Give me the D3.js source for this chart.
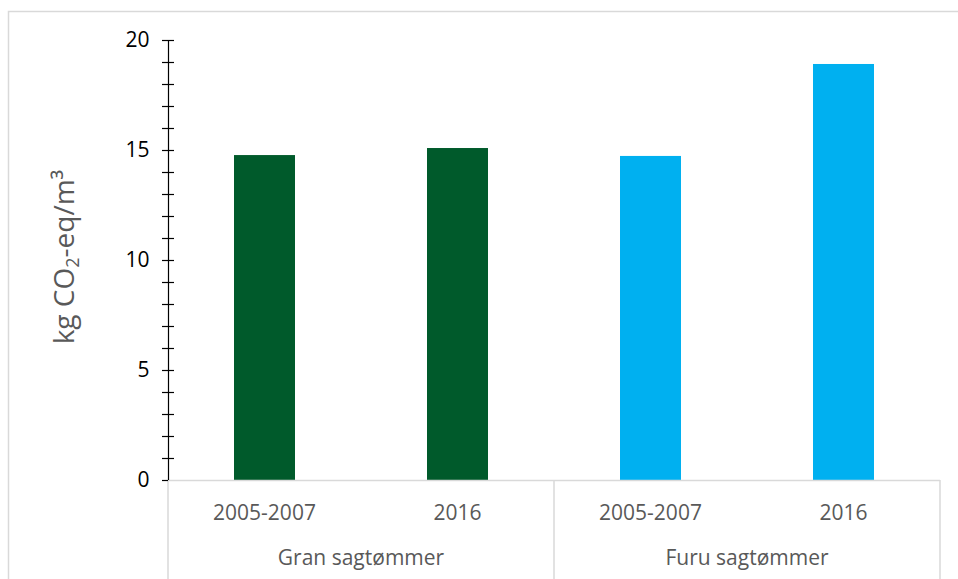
<!DOCTYPE html>
<html>
<head>
<meta charset="utf-8">
<script src="https://cdn.jsdelivr.net/npm/d3@7"></script>
<style>
  body { margin: 0; background: #fff; }
  text { font-family: "Open Sans", "Liberation Sans", sans-serif; }
</style>
</head>
<body>
<script>
// data
var groups = ["Gran sagtømmer", "Furu sagtømmer"];
var periods = ["2005-2007", "2016"];
var values = [14.77, 15.09, 14.73, 18.91];
var colors = ["#005a2b", "#005a2b", "#00b0f0", "#00b0f0"];
var yTicks = [0, 5, 10, 15, 20];

var width = 958, height = 579;
var plotLeft = 168, plotRight = 940, plotTop = 40, plotBottom = 480;

var svg = d3.select("body").append("svg")
    .attr("width", width)
    .attr("height", height);

// chart frame
svg.append("rect")
    .attr("x", 8.5).attr("y", 11.5)
    .attr("width", 960).attr("height", 600)
    .attr("fill", "none")
    .attr("stroke", "#d9d9d9")
    .attr("stroke-width", 1.5);

var cats = [];
groups.forEach(function(g, gi){
    periods.forEach(function(p){ cats.push(gi + "|" + p); });
});

var x = d3.scaleBand().domain(cats).range([plotLeft, plotRight]).paddingInner(0).paddingOuter(0);
var y = d3.scaleLinear().domain([0, 20]).range([plotBottom, plotTop]);

// bars
var barW = x.bandwidth() * 0.316;
svg.selectAll(".bar")
    .data(values)
    .enter().append("rect")
    .attr("class", "bar")
    .attr("x", function(d, i){ return x(cats[i]) + (x.bandwidth() - barW) / 2; })
    .attr("y", function(d){ return y(d); })
    .attr("width", barW)
    .attr("height", function(d){ return y(0) - y(d); })
    .attr("fill", function(d, i){ return colors[i]; });

// category axis (gray)
svg.append("line")
    .attr("x1", plotLeft).attr("x2", plotRight)
    .attr("y1", plotBottom + 0.5).attr("y2", plotBottom + 0.5)
    .attr("stroke", "#d9d9d9").attr("stroke-width", 1.5);
var dividers = [plotLeft, x(cats[2]), plotRight];
svg.selectAll(".divider")
    .data(dividers)
    .enter().append("line")
    .attr("class", "divider")
    .attr("x1", function(d){ return d; }).attr("x2", function(d){ return d; })
    .attr("y1", plotBottom).attr("y2", height)
    .attr("stroke", "#d9d9d9").attr("stroke-width", 1.5);

svg.selectAll(".periodLabel")
    .data(cats)
    .enter().append("text")
    .attr("class", "periodLabel")
    .attr("x", function(d){ return x(d) + x.bandwidth() / 2; })
    .attr("y", 520)
    .attr("text-anchor", "middle")
    .attr("font-size", 21)
    .attr("fill", "#595959")
    .text(function(d){ return d.split("|")[1]; });

svg.selectAll(".groupLabel")
    .data(groups)
    .enter().append("text")
    .attr("class", "groupLabel")
    .attr("x", function(d, i){ return x(cats[i * 2]) + x.bandwidth(); })
    .attr("y", 565)
    .attr("text-anchor", "middle")
    .attr("font-size", 21)
    .attr("fill", "#595959")
    .text(function(d){ return d; });

// value axis, minor + major ticks crossing the line
var minor = d3.range(0, 21, 1);
svg.selectAll(".minorTick")
    .data(minor)
    .enter().append("line")
    .attr("class", "minorTick")
    .attr("x1", plotLeft - 6).attr("x2", function(d){ return d === 0 ? plotLeft : plotLeft + 6; })
    .attr("y1", function(d){ return Math.round(y(d)) + 0.5; })
    .attr("y2", function(d){ return Math.round(y(d)) + 0.5; })
    .attr("stroke", "#000").attr("stroke-width", 1.2);

var yAxis = d3.axisLeft(y).tickValues(yTicks).tickSize(7).tickPadding(12);
var gy = svg.append("g")
    .attr("transform", "translate(" + (plotLeft + 0.5) + ",0)")
    .call(yAxis);
gy.select(".domain").attr("stroke", "#000").attr("stroke-width", 1.2)
    .attr("d", "M0," + y(20) + "V" + y(0));
gy.selectAll(".tick line").remove();
gy.selectAll(".tick text")
    .attr("font-size", 21)
    .attr("fill", "#000")
    .style("font-family", "'Open Sans', 'Liberation Sans', sans-serif");

// y title
var title = svg.append("text")
    .attr("transform", "translate(74,257) rotate(-90)")
    .attr("text-anchor", "middle")
    .attr("font-size", 28)
    .attr("fill", "#595959");
title.append("tspan").text("kg CO");
title.append("tspan").attr("font-size", 18).attr("dy", 5).text("2");
title.append("tspan").attr("dy", -5).text("-eq/m³");
</script>
</body>
</html>
